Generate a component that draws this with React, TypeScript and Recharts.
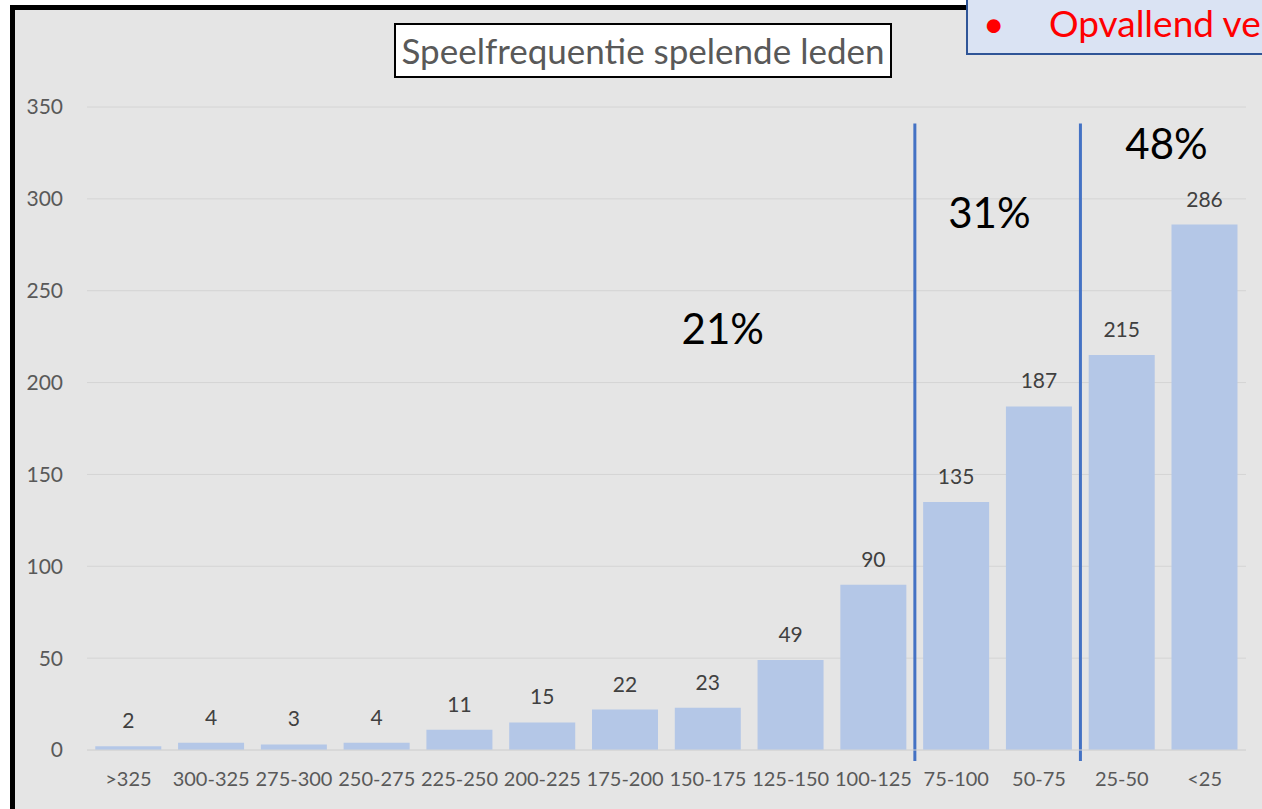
import { Bar, BarChart, CartesianGrid, LabelList, ReferenceDot, ReferenceLine, XAxis, YAxis } from "recharts";

const categories = [">325", "300-325", "275-300", "250-275", "225-250", "200-225", "175-200", "150-175", "125-150", "100-125", "75-100", "50-75", "25-50", "<25"];
const members = [2, 4, 3, 4, 11, 15, 22, 23, 49, 90, 135, 187, 215, 286];
const yTicks = [0, 50, 100, 150, 200, 250, 300, 350];

// group borders sit between categories (on a 0..14 slot scale)
const dividers = [10, 12];
const shareLabels = ["21%", "31%", "48%"];
const shareX = [7.68, 10.9, 13.04];
const shareY = [229, 292, 330];

const data = categories.map((c, i) => ({ range: c, leden: members[i], slot: i + 0.5 }));

const font = "Lato, 'Open Sans', sans-serif";

export default function App() {
   return (
      <div style={{ position: "absolute", left: 0, top: 0, width: 1262, height: 809, overflow: "hidden", background: "#fff", fontFamily: font }}>
         <div style={{ position: "absolute", left: 10, top: 5, right: -20, bottom: -20, borderLeft: "5px solid #000", borderTop: "5px solid #000", background: "#e5e5e5" }} />
         <div style={{ position: "absolute", left: 0, top: 0 }}>
            <BarChart width={1262} height={809} data={data} margin={{ top: 107, right: 16, bottom: 0, left: 0 }}>
               <CartesianGrid vertical={false} stroke="#d4d4d4" />
               <XAxis dataKey="range" interval={0} height={59} tickLine={false} tickSize={0} tickMargin={22}
                  axisLine={{ stroke: "#d4d4d4" }} tick={{ fill: "#595959", fontSize: 20, fontFamily: font }} />
               <XAxis xAxisId="pos" dataKey="slot" type="number" domain={[0, 14]} allowDataOverflow hide />
               <YAxis width={87} domain={[0, 350]} ticks={yTicks} axisLine={false} tickLine={false} tickSize={0} tickMargin={24}
                  tick={{ fill: "#595959", fontSize: 21, fontFamily: font }} />
               <Bar dataKey="leden" fill="#b4c7e7" barCategoryGap="9.5%" isAnimationActive={false}>
                  <LabelList dataKey="leden" position="top" offset={18} fill="#404040" fontSize={21} fontFamily={font} />
               </Bar>
               {dividers.map((d) => (
                  <ReferenceLine key={d} xAxisId="pos" segment={[{ x: d, y: -6 }, { x: d, y: 341 }]} ifOverflow="visible" stroke="#4472c4" strokeWidth={3} />
               ))}
               {shareLabels.map((s, i) => (
                  <ReferenceDot key={s} xAxisId="pos" x={shareX[i]} y={shareY[i]} r={0} stroke="none" fill="none" ifOverflow="visible"
                     label={{ value: s, position: "center", fontSize: 42, fill: "#000", fontFamily: font }} />
               ))}
            </BarChart>
         </div>
         <div style={{ position: "absolute", left: 394, top: 23, width: 494, height: 51, border: "2px solid #000", background: "#fff", color: "#595959", fontSize: 35, lineHeight: "51px", textAlign: "center", whiteSpace: "nowrap" }}>
            Speelfrequentie spelende leden
         </div>
         <div style={{ position: "absolute", left: 966, top: 0, width: 400, height: 53, border: "2px solid #2f5597", borderTop: "none", background: "#dae3f3", color: "#ff0000", fontSize: 37, lineHeight: "30px", whiteSpace: "nowrap" }}>
            <span style={{ position: "absolute", left: 15, top: 8 }}>•</span>
            <span style={{ position: "absolute", left: 81, top: 8 }}>Opvallend ve</span>
         </div>
      </div>
   );
}
